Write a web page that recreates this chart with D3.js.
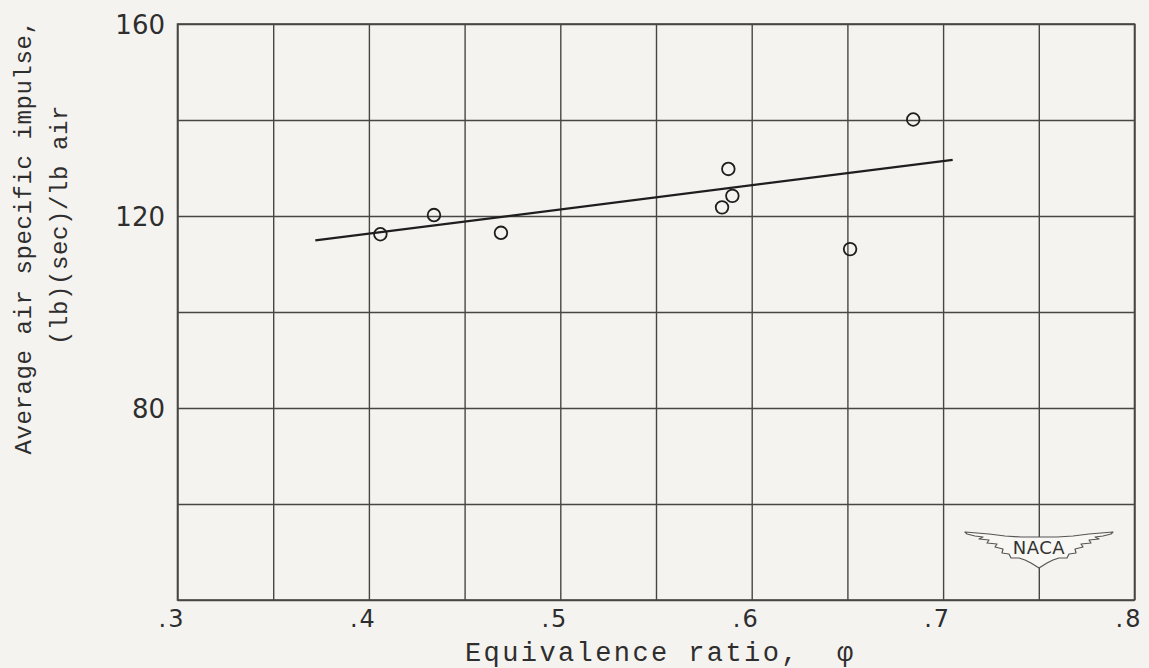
<!DOCTYPE html>
<html>
<head>
<meta charset="utf-8">
<script src="https://cdn.jsdelivr.net/npm/d3@7"></script>
<style>
  html, body { margin: 0; padding: 0; background: #f5f3ef; }
  svg { display: block; }
</style>
</head>
<body>
<svg id="chart" width="1149" height="668"></svg>
<script>
// ---- data ----
const phiValues = [0.406, 0.434, 0.469, 0.5845, 0.5878, 0.5899, 0.6514, 0.6844];
const impulseValues = [116.2, 120.2, 116.5, 121.8, 129.8, 124.2, 113.1, 140.1];
const fitPhi = [0.372, 0.705];
const fitImpulse = [114.9, 131.7];
const xGridValues = [0.30, 0.35, 0.40, 0.45, 0.50, 0.55, 0.60, 0.65, 0.70, 0.75, 0.80];
const xTickValues = [0.3, 0.4, 0.5, 0.6, 0.7, 0.8];
const xTickLabels = [".3", ".4", ".5", ".6", ".7", ".8"];
const yGridValues = [40, 60, 80, 100, 120, 140, 160];
const yTickValues = [80, 120, 160];
const yTickLabels = ["80", "120", "160"];
const xTitle = "Equivalence ratio,\u00a0\u00a0\u03c6";
const yTitleLines = ["Average air specific impulse,", "(lb)(sec)/lb air"];

// ---- layout ----
const svg = d3.select("#chart");
const plotLeft = 177.5, plotRight = 1134.5, plotTop = 24, plotBottom = 600;
const x = d3.scaleLinear().domain([0.3, 0.8]).range([plotLeft, plotRight]);
const y = d3.scaleLinear().domain([40, 160]).range([plotBottom, plotTop]);
const ink = "#2e2e2e";
const gridInk = "#464644";

// background
svg.append("rect").attr("width", 1149).attr("height", 668).attr("fill", "#f5f3ef");

// grid via axes
const gx = svg.append("g")
  .attr("transform", `translate(0,${plotBottom})`)
  .call(d3.axisBottom(x).tickValues(xGridValues).tickSize(-(plotBottom - plotTop)).tickFormat(""));
const gy = svg.append("g")
  .attr("transform", `translate(${plotLeft},0)`)
  .call(d3.axisLeft(y).tickValues(yGridValues).tickSize(-(plotRight - plotLeft)).tickFormat(""));
[gx, gy].forEach(g => {
  g.select(".domain").remove();
  g.selectAll(".tick line").attr("stroke", gridInk).attr("stroke-width", 1.4);
});

// frame
svg.append("rect")
  .attr("x", plotLeft).attr("y", plotTop)
  .attr("width", plotRight - plotLeft).attr("height", plotBottom - plotTop)
  .attr("fill", "none").attr("stroke", gridInk).attr("stroke-width", 1.6);

// tick labels
svg.append("g").selectAll("text").data(xTickValues).join("text")
  .attr("x", d => x(d) + 8)
  .attr("y", 627)
  .attr("text-anchor", "end")
  .attr("font-family", "DejaVu Sans, sans-serif")
  .attr("font-size", 24)
  .attr("fill", ink)
  .attr("letter-spacing", 2)
  .text((d, i) => xTickLabels[i]);

svg.append("g").selectAll("text").data(yTickValues).join("text")
  .attr("x", 165)
  .attr("y", d => y(d) + 9.5)
  .attr("text-anchor", "end")
  .attr("font-family", "DejaVu Sans, sans-serif")
  .attr("font-size", 26)
  .attr("fill", ink)
  .text((d, i) => yTickLabels[i]);

// axis titles
svg.append("text")
  .attr("x", 465).attr("y", 661)
  .attr("font-family", "Liberation Mono, monospace")
  .attr("font-size", 27)
  .attr("letter-spacing", 2.4)
  .attr("fill", ink)
  .text(xTitle);

const yt = svg.append("g").attr("transform", "translate(0,237) rotate(-90)");
yt.selectAll("text").data(yTitleLines).join("text")
  .attr("x", (d, i) => i === 0 ? 0 : 12)
  .attr("y", (d, i) => 31 + i * 36)
  .attr("text-anchor", "middle")
  .attr("font-family", "Liberation Mono, monospace")
  .attr("font-size", 24)
  .attr("letter-spacing", 0.6)
  .attr("fill", ink)
  .text(d => d);

// fitted line
const line = d3.line().x(d => x(d[0])).y(d => y(d[1]));
svg.append("path")
  .datum(fitPhi.map((p, i) => [p, fitImpulse[i]]))
  .attr("d", line)
  .attr("fill", "none")
  .attr("stroke", "#1e1e1e")
  .attr("stroke-width", 2.3);

// data points
svg.append("g").selectAll("circle").data(phiValues).join("circle")
  .attr("cx", d => x(d))
  .attr("cy", (d, i) => y(impulseValues[i]))
  .attr("r", 6.3)
  .attr("fill", "none")
  .attr("stroke", "#1e1e1e")
  .attr("stroke-width", 1.8);

// NACA wings logo (decorative)
const logo = svg.append("g").attr("transform", "translate(1039,532)");
const rightWing = [[0,5],[18,5],[34,4],[50,2],[74,0],[72,2],[64,4],[56,5],[60,7],[50,8],[52,11],[42,12],[44,15],[36,17],[37,21],[30,22],[28,26],[20,26],[14,28],[8,31],[0,36]];
const wing = rightWing.concat(rightWing.slice(1, -1).reverse().map(p => [-p[0], p[1]]));
logo.append("path")
  .attr("d", d3.line().curve(d3.curveLinearClosed)(wing))
  .attr("fill", "#f8f7f3")
  .attr("stroke", "#555")
  .attr("stroke-width", 1.2)
  .attr("stroke-linejoin", "round");
logo.append("text")
  .attr("x", 0).attr("y", 22)
  .attr("text-anchor", "middle")
  .attr("font-family", "DejaVu Sans, sans-serif")
  .attr("font-size", 18)
  .attr("letter-spacing", 0.5)
  .attr("fill", "#333")
  .text("NACA");
</script>
</body>
</html>
